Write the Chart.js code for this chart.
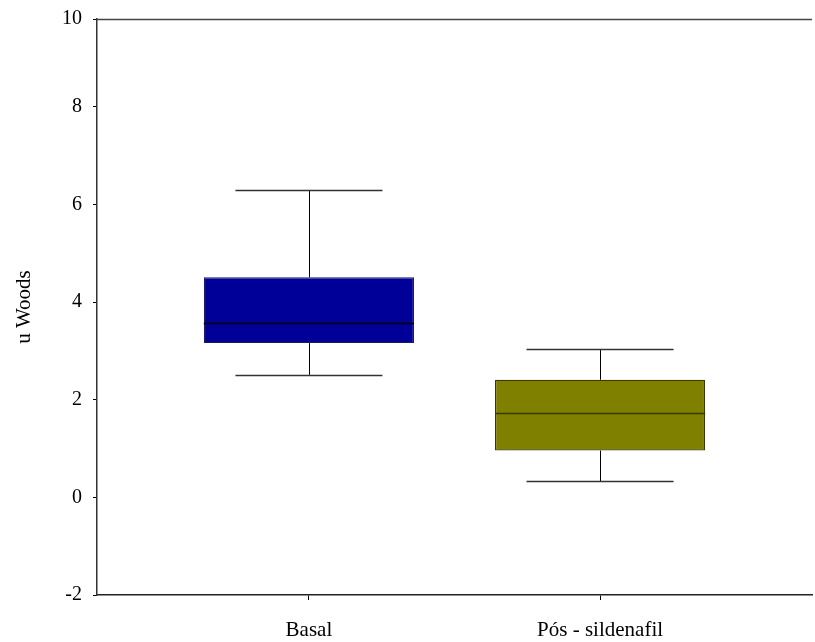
<!DOCTYPE html>
<html>
<head>
<meta charset="utf-8">
<script src="https://cdn.jsdelivr.net/npm/chart.js@4"></script>
<style>
  html, body { margin: 0; padding: 0; background: #ffffff; }
  #wrap { width: 815px; height: 642px; position: relative; }
</style>
</head>
<body>
<div id="wrap"><canvas id="c" width="815" height="642"></canvas></div>
<script>
// ---- data ----
const categories   = ['Basal', 'Pós - sildenafil'];
const whiskerLow   = [2.51, 0.33];
const quartile1    = [3.16, 0.96];
const medians      = [3.57, 1.73];
const quartile3    = [4.51, 2.41];
const whiskerHigh  = [6.29, 3.04];
const yTickLabels  = [-2, 0, 2, 4, 6, 8, 10];

// ---- styles ----
const boxFill   = ['#000099', '#808000'];
const boxEdge   = ['#1a1a66', '#3a3a00'];
const medianCol = ['#000000', '#3a3a00'];
const capHalf   = 0.2525;   // half whisker-cap width in x units
const serif = '"Liberation Serif", "Times New Roman", serif';

const boxPlotPlugin = {
  id: 'boxPlot',
  afterDatasetsDraw(chart) {
    const ctx = chart.ctx, xs = chart.scales.x, ys = chart.scales.y;
    const meta = chart.getDatasetMeta(0);
    ctx.save();
    categories.forEach((c, i) => {
      const xc = xs.getPixelForValue(i + 1);
      const bar = meta.data[i];
      const half = bar.width / 2;
      const yLo = ys.getPixelForValue(whiskerLow[i]);
      const yQ1 = ys.getPixelForValue(quartile1[i]);
      const yQ3 = ys.getPixelForValue(quartile3[i]);
      const yHi = ys.getPixelForValue(whiskerHigh[i]);
      const yMd = ys.getPixelForValue(medians[i]);
      ctx.lineWidth = 1;
      ctx.strokeStyle = '#000000';
      ctx.beginPath();
      ctx.moveTo(Math.round(xc) + 0.5, yQ3); ctx.lineTo(Math.round(xc) + 0.5, yHi);
      ctx.moveTo(Math.round(xc) + 0.5, yQ1); ctx.lineTo(Math.round(xc) + 0.5, yLo);
      ctx.stroke();
      ctx.strokeStyle = '#333333';
      ctx.lineWidth = 1.3;
      ctx.beginPath();
      ctx.moveTo(xs.getPixelForValue(i + 1 - capHalf), Math.round(yHi) + 0.5);
      ctx.lineTo(xs.getPixelForValue(i + 1 + capHalf), Math.round(yHi) + 0.5);
      ctx.moveTo(xs.getPixelForValue(i + 1 - capHalf), Math.round(yLo) + 0.5);
      ctx.lineTo(xs.getPixelForValue(i + 1 + capHalf), Math.round(yLo) + 0.5);
      ctx.stroke();
      ctx.strokeStyle = medianCol[i];
      ctx.lineWidth = 1.5;
      ctx.beginPath();
      ctx.moveTo(xc - half, Math.round(yMd) + 0.5);
      ctx.lineTo(xc + half, Math.round(yMd) + 0.5);
      ctx.stroke();
    });
    // top frame line
    const a = chart.chartArea;
    ctx.strokeStyle = '#444444';
    ctx.lineWidth = 1.5;
    ctx.beginPath();
    ctx.moveTo(a.left, a.top + 0.5);
    ctx.lineTo(a.right, a.top + 0.5);
    ctx.stroke();
    ctx.restore();
  }
};

new Chart(document.getElementById('c'), {
  type: 'bar',
  data: {
    datasets: [{
      data: categories.map((c, i) => ({ x: i + 1, y: [quartile1[i], quartile3[i]] })),
      backgroundColor: boxFill,
      borderColor: boxEdge,
      borderWidth: 1.2,
      borderSkipped: false,
      categoryPercentage: 1,
      barPercentage: 0.722
    }]
  },
  options: {
    responsive: false,
    animation: false,
    events: [],
    layout: { padding: { top: 19, right: 3, left: 0, bottom: 0 } },
    plugins: { legend: { display: false }, tooltip: { enabled: false } },
    scales: {
      x: {
        type: 'linear',
        offset: false,
        min: 0.272,
        max: 2.728,
        afterBuildTicks: s => { s.ticks = categories.map((c, i) => ({ value: i + 1 })); },
        afterFit: s => { s.height = 47; s.paddingLeft = 0; s.paddingRight = 0; },
        ticks: {
          callback: (v, idx) => categories[idx],
          font: { family: serif, size: 21 },
          color: '#000000',
          padding: 18,
          autoSkip: false,
          maxRotation: 0
        },
        grid: { drawOnChartArea: false, drawTicks: true, tickLength: 5, color: '#000000', offset: false },
        border: { display: true, color: '#222222', width: 1.5 }
      },
      y: {
        min: -2,
        max: 9.8,
        afterBuildTicks: s => { s.ticks = yTickLabels.map(v => ({ value: Math.min(v, s.max) })); },
        afterFit: s => { s.width = 97; s.paddingTop = 0; s.paddingBottom = 0; },
        ticks: {
          callback: (v, idx) => String(yTickLabels[idx]),
          font: { family: serif, size: 20 },
          color: '#000000',
          padding: 11
        },
        grid: { drawOnChartArea: false, drawTicks: true, tickLength: 4, color: '#000000' },
        border: { display: true, color: '#333333', width: 1.5 },
        title: {
          display: true,
          text: 'u Woods',
          font: { family: serif, size: 21 },
          color: '#000000',
          padding: { top: 12, bottom: 0 }
        }
      }
    }
  },
  plugins: [boxPlotPlugin]
});
</script>
</body>
</html>
